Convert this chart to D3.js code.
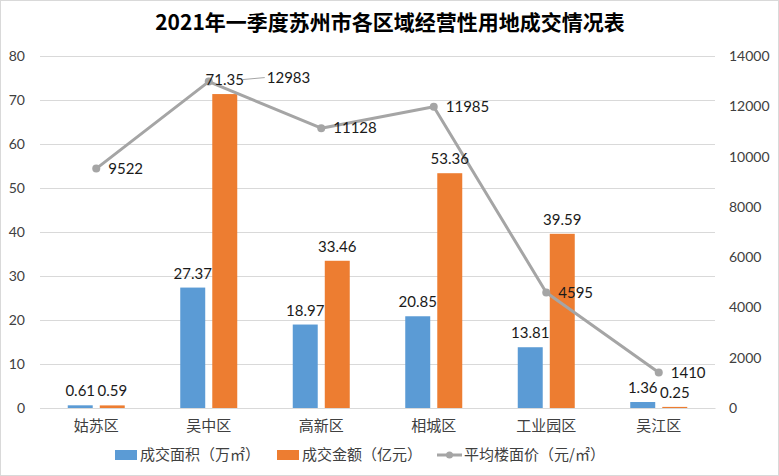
<!DOCTYPE html>
<html><head><meta charset="utf-8">
<script src="https://cdn.jsdelivr.net/npm/d3@7"></script>
<style>
body{margin:0;background:#fff;}
svg{display:block;}
</style></head>
<body>
<svg id="chart" width="779" height="476"></svg>
<script>
const title = "2021年一季度苏州市各区域经营性用地成交情况表";
const categories = ["姑苏区","吴中区","高新区","相城区","工业园区","吴江区"];
const areaValues = [0.61, 27.37, 18.97, 20.85, 13.81, 1.36];
const amountValues = [0.59, 71.35, 33.46, 53.36, 39.59, 0.25];
const priceValues = [9522, 12983, 11128, 11985, 4595, 1410];
const leftTicks = [0,10,20,30,40,50,60,70,80];
const rightTicks = [0,2000,4000,6000,8000,10000,12000,14000];
const seriesNames = ["成交面积（万㎡）","成交金额（亿元）","平均楼面价（元/㎡）"];

const W = 779, H = 476;
const m = {left:40, right:64, top:56, bottom:68};
const svg = d3.select("#chart");
const numFont = "Lato, 'Open Sans', sans-serif";
const cjkFont = "'Noto Sans CJK SC', sans-serif";

svg.append("rect").attr("x",0.5).attr("y",0.5).attr("width",W-1).attr("height",H-1)
  .attr("fill","#fff").attr("stroke","#d9d9d9");

svg.append("text").attr("x",390).attr("y",30).attr("text-anchor","middle")
  .attr("font-family",cjkFont).attr("font-weight","bold").attr("font-size",21)
  .attr("fill","#000").text(title);

const x0 = d3.scaleBand().domain(categories).range([m.left, W-m.right]);
const x1 = d3.scaleBand().domain(["a","b"]).range([-28.5, 28.5]).paddingInner(0.22);
const yL = d3.scaleLinear().domain([0,80]).range([H-m.bottom, m.top]);
const yR = d3.scaleLinear().domain([0,14000]).range([H-m.bottom, m.top]);

// gridlines
svg.append("g").selectAll("line").data(leftTicks).join("line")
  .attr("x1",m.left).attr("x2",W-m.right)
  .attr("y1",d=>yL(d)+0.5).attr("y2",d=>yL(d)+0.5)
  .attr("stroke","#d9d9d9").attr("stroke-width",1);

// left axis
const axL = svg.append("g").attr("transform",`translate(${m.left},0)`)
  .call(d3.axisLeft(yL).tickValues(leftTicks).tickSize(0).tickPadding(15));
axL.select(".domain").remove();
axL.selectAll("text").attr("font-family",numFont).attr("font-size",14).attr("fill","#404040");

// right axis
const axR = svg.append("g").attr("transform",`translate(${W-m.right},0)`)
  .call(d3.axisRight(yR).tickValues(rightTicks).tickFormat(d3.format("d")).tickSize(0).tickPadding(14));
axR.select(".domain").remove();
axR.selectAll("text").attr("font-family",numFont).attr("font-size",14).attr("fill","#404040");

// category axis
const axB = svg.append("g").attr("transform",`translate(0,${H-m.bottom})`)
  .call(d3.axisBottom(x0).tickSize(0).tickPadding(12));
axB.select(".domain").attr("stroke","#d9d9d9");
axB.selectAll("text").attr("font-family",cjkFont).attr("font-size",15).attr("fill","#404040");

const cx = c => x0(c) + x0.bandwidth()/2;

// bars
const colors = ["#5b9bd5","#ed7d31","#a5a5a5"];
const barSeries = [{k:"a", vals:areaValues, color:colors[0]},{k:"b", vals:amountValues, color:colors[1]}];
barSeries.forEach(s=>{
  const g = svg.append("g");
  g.selectAll("rect").data(categories).join("rect")
    .attr("x",(c)=>cx(c)+x1(s.k))
    .attr("width",x1.bandwidth())
    .attr("y",(c,i)=>yL(s.vals[i]))
    .attr("height",(c,i)=>yL(0)-yL(s.vals[i]))
    .attr("fill",s.color);
});

// line
const pts = categories.map((c,i)=>[cx(c), yR(priceValues[i])]);
svg.append("path").attr("d",d3.line()(pts)).attr("fill","none")
  .attr("stroke",colors[2]).attr("stroke-width",3).attr("stroke-linejoin","round");
svg.append("g").selectAll("circle").data(pts).join("circle")
  .attr("cx",d=>d[0]).attr("cy",d=>d[1]).attr("r",4).attr("fill",colors[2]);

// bar labels
barSeries.forEach(s=>{
  svg.append("g").selectAll("text").data(categories).join("text")
    .attr("x",c=>cx(c)+x1(s.k)+x1.bandwidth()/2)
    .attr("y",(c,i)=>yL(s.vals[i])-9)
    .attr("text-anchor","middle")
    .attr("font-family",numFont).attr("font-size",15).attr("fill","#1a1a1a")
    .text((c,i)=>s.vals[i].toFixed(2));
});

// line labels
const lblOffset = categories.map((c,i)=> i===1 ? {dx:58, dy:-4} : {dx:12, dy:0});
svg.append("g").selectAll("text").data(pts).join("text")
  .attr("x",(d,i)=>d[0]+lblOffset[i].dx)
  .attr("y",(d,i)=>d[1]+lblOffset[i].dy)
  .attr("dy","0.35em")
  .attr("font-family",numFont).attr("font-size",15).attr("fill","#1a1a1a")
  .text((d,i)=>priceValues[i]);
// leader line for the moved label
svg.append("line").attr("x1",pts[1][0]+34).attr("y1",pts[1][1]-2)
  .attr("x2",pts[1][0]+56).attr("y2",pts[1][1]-4)
  .attr("stroke","#a5a5a5").attr("stroke-width",1);

// legend
const legY = 455;
const leg = [
  {x:115, type:"rect", color:colors[0], text:seriesNames[0]},
  {x:277, type:"rect", color:colors[1], text:seriesNames[1]},
  {x:437, type:"line", color:colors[2], text:seriesNames[2]}
];
leg.forEach(l=>{
  if(l.type==="rect"){
    svg.append("rect").attr("x",l.x).attr("y",legY-5).attr("width",22).attr("height",10).attr("fill",l.color);
  } else {
    svg.append("line").attr("x1",l.x).attr("x2",l.x+25).attr("y1",legY).attr("y2",legY)
      .attr("stroke",l.color).attr("stroke-width",3);
    svg.append("circle").attr("cx",l.x+12.5).attr("cy",legY).attr("r",3.5).attr("fill",l.color);
  }
  svg.append("text").attr("x",l.x+(l.type==="rect"?25:27)).attr("y",legY).attr("dy","0.35em")
    .attr("font-family",cjkFont).attr("font-size",15).attr("fill","#404040").text(l.text);
});
</script>
</body></html>
